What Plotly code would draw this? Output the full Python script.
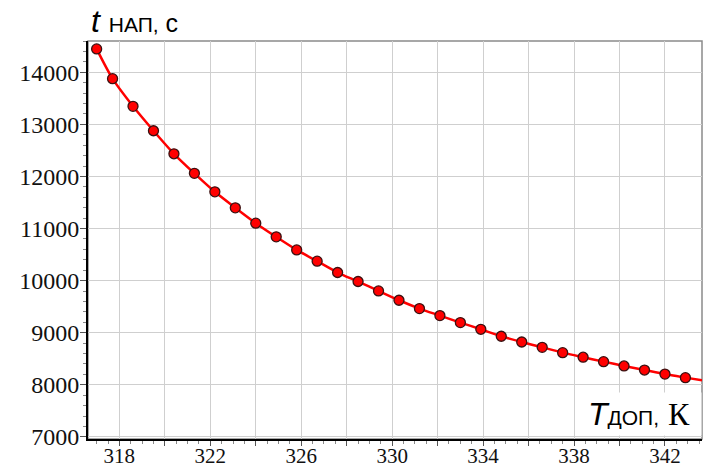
import plotly.graph_objects as go

# Data
T_dop = [317.0, 317.7, 318.6, 319.5, 320.4, 321.3, 322.2, 323.1, 324.0, 324.9,
         325.8, 326.7, 327.6, 328.5, 329.4, 330.3, 331.2, 332.1, 333.0, 333.9,
         334.8, 335.7, 336.6, 337.5, 338.4, 339.3, 340.2, 341.1, 342.0, 342.9]
t_nap = [14448, 13877, 13346, 12877, 12435, 12059, 11705, 11398, 11103, 10840,
         10590, 10373, 10156, 9983, 9802, 9623, 9464, 9329, 9195, 9066,
         8932, 8822, 8720, 8618, 8530, 8445, 8362, 8284, 8206, 8138]
# fitted curve continues to the right edge of the plot
curve_T_extra = [343.63]
curve_t_extra = [8085]

x_grid_vals = [318, 320, 322, 324, 326, 328, 330, 332, 334, 336, 338, 340, 342]
x_tick_text = ["318", "", "322", "", "326", "", "330", "", "334", "", "338", "", "342"]
y_tick_vals = [7000, 8000, 9000, 10000, 11000, 12000, 13000, 14000]
y_tick_text = ["7000", "8000", "9000", "10000", "11000", "12000", "13000", "14000"]

SERIF = "Liberation Serif"
SANS = "Liberation Sans"


def serif(s):
    return f"<span style='font-family:Liberation Serif'>{s}</span>" if s else ""


fig = go.Figure()
fig.add_trace(go.Scatter(
    x=T_dop + curve_T_extra, y=t_nap + curve_t_extra, mode="lines",
    line=dict(color="#ff0000", width=2.5, shape="spline", smoothing=0.8),
    hoverinfo="skip", showlegend=False))
fig.add_trace(go.Scatter(
    x=T_dop, y=t_nap, mode="markers",
    marker=dict(color="#ff0000", size=10, line=dict(color="#3a1010", width=1.3)),
    showlegend=False))

fig.update_xaxes(
    range=[316.62, 343.63], tickmode="array", tickvals=x_grid_vals,
    ticktext=[serif(s) for s in x_tick_text],
    showgrid=True, gridcolor="#cfcfcf", gridwidth=1.3,
    showline=True, linecolor="black", linewidth=2,
    ticks="outside", ticklen=5, tickcolor="#555555", tickwidth=1,
    minor=dict(dtick=0.5, ticks="outside", ticklen=3, tickcolor="#888888", showgrid=False),
    tickfont=dict(family=SERIF, size=21, color="#111111"),
    ticklabelstandoff=-8,
    zeroline=False, automargin=False)
fig.update_yaxes(
    range=[6960, 14600], tickmode="array", tickvals=y_tick_vals,
    ticktext=[serif(s) for s in y_tick_text],
    showgrid=True, gridcolor="#cfcfcf", gridwidth=1.3,
    showline=True, linecolor="black", linewidth=2,
    ticks="outside", ticklen=6, tickcolor="#555555", tickwidth=1,
    minor=dict(dtick=200, ticks="outside", ticklen=3, tickcolor="#888888", showgrid=False),
    tickfont=dict(family=SERIF, size=24, color="#111111"),
    ticklabelstandoff=-4,
    zeroline=False, automargin=False)

# frame (top/right borders)
fig.add_shape(type="rect", xref="paper", yref="paper", x0=0, y0=0, x1=1, y1=1,
              line=dict(color="#8a8a8a", width=1.5), layer="below")

fig.add_annotation(
    xref="paper", yref="paper", x=(89 - 88) / 614, y=1.0, xanchor="left", yanchor="bottom",
    showarrow=False,
    text="<i>t</i> <span style='font-size:21px'>НАП,</span><span style='font-size:25px'> с</span>",
    font=dict(family=SANS, size=32, color="black"))
fig.add_annotation(
    xref="paper", yref="paper", x=1.0, y=(439 - 414) / 398, xanchor="right", yanchor="middle",
    showarrow=False, bgcolor="white", borderpad=3,
    text="<i>T</i><span style='font-size:21px'>ДОП,</span> <span style='font-family:Liberation Serif'>К</span> ",
    font=dict(family=SANS, size=32, color="black"))

fig.update_layout(
    width=711, height=468,
    font=dict(family=SERIF, size=23, color="#111111"),
    margin=dict(l=88, r=9, t=41, b=29),
    paper_bgcolor="white", plot_bgcolor="white")

fig.write_html("out.html")
